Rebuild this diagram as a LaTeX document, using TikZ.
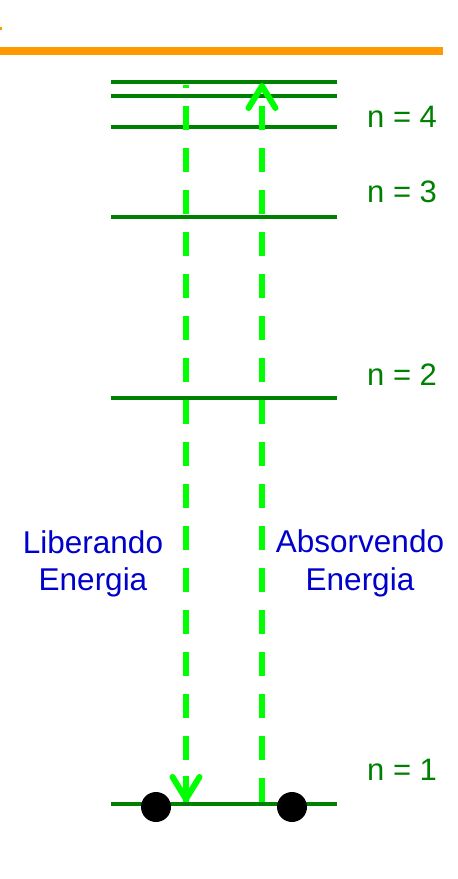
\documentclass[tikz,border=0pt]{standalone}
\usepackage{fontspec}
\setmainfont{Liberation Sans}
\usetikzlibrary{arrows.meta}
\definecolor{lvlgreen}{RGB}{0,128,0}
\definecolor{arrgreen}{RGB}{0,255,0}
\definecolor{txtblue}{RGB}{0,0,204}
\definecolor{barorange}{RGB}{255,153,0}
\tikzset{
  level/.style={draw=lvlgreen, line width=3.5pt},
  nlabel/.style={anchor=base west, inner sep=0pt, text=lvlgreen, font=\fontsize{31}{36}\selectfont},
  elabel/.style={anchor=base, inner sep=0pt, text=txtblue, font=\fontsize{31.5}{36}\selectfont},
  transition/.style={draw=arrgreen, line width=6pt, dash pattern=on 24pt off 18pt},
  barb/.style={-{Straight Barb[length=22pt,width=27pt,round]}},
  electron/.style={circle, fill=black, minimum size=30pt, inner sep=0pt}
}
\begin{document}
\begin{tikzpicture}[x=1pt,y=-1pt]
\useasboundingbox (0,0) rectangle (458,879);
% orange bar
\fill[barorange] (0,27) rectangle (2,30);
\fill[barorange] (0,47) rectangle (443,55);
% energy levels
\foreach \name/\y in {la/82, lb/96, l4/127, l3/217, l2/398, l1/804} {
  \coordinate (\name W) at (111,\y);
  \coordinate (\name E) at (337,\y);
  \draw[level] (\name W) -- (\name E);
}
% level labels
\node[nlabel] (n4) at (367,127) {n = 4};
\node[nlabel] (n3) at (367,202) {n = 3};
\node[nlabel] (n2) at (367,385) {n = 2};
\node[nlabel] (n1) at (367,780) {n = 1};
% transitions
\coordinate (relTop) at (186,85);
\coordinate (relBot) at (186,802);
\coordinate (relHead) at (186,776);
\coordinate (absBot) at (262,802);
\coordinate (absTop) at (262,83);
\draw[transition] (relBot) -- (relTop);
\draw[draw=arrgreen, line width=6pt, barb] (relHead) -- (relBot);
\draw[transition, barb] (absBot) -- (absTop);
% texts
\node[elabel] (lib1) at (93,553) {Liberando};
\node[elabel] (lib2) at (93,590) {Energia};
\node[elabel] (abs1) at (360,552) {Absorvendo};
\node[elabel] (abs2) at (360,590) {Energia};
% electrons
\node[electron] (e1) at (156,807) {};
\node[electron] (e2) at (292,807) {};
\end{tikzpicture}
\end{document}
